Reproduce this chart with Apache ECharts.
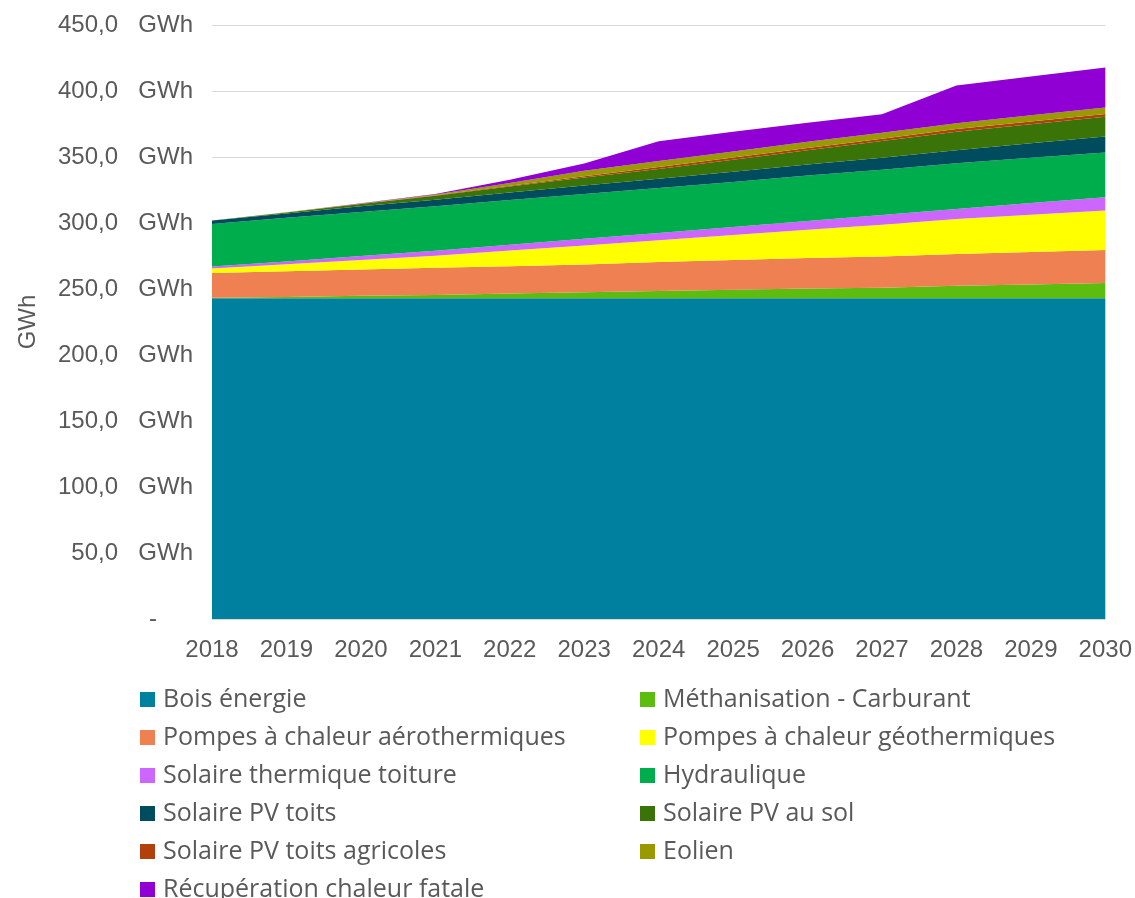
<!DOCTYPE html>
<html>
<head>
<meta charset="utf-8">
<script src="https://cdn.jsdelivr.net/npm/echarts@6/dist/echarts.min.js"></script>
<style>
  html, body { margin: 0; padding: 0; background: #ffffff; }
  #chart { width: 1135px; height: 898px; }
</style>
</head>
<body>
<div id="chart"></div>
<script>
// Production d'énergie renouvelable par filière, 2018-2030 (GWh)
const years = ['2018','2019','2020','2021','2022','2023','2024','2025','2026','2027','2028','2029','2030'];

const boisEnergie     = [243, 243, 243, 243, 243, 243, 243, 243, 243, 243, 243, 243, 243];
const methanisation   = [0.3, 1.0, 1.8, 2.5, 3.5, 4.5, 5.5, 6.5, 7.3, 8.0, 9.5, 10.5, 11.5];
const pacAero         = [18.8, 19.4, 20.0, 20.6, 20.8, 21.0, 22.0, 22.5, 23.1, 23.7, 24.0, 24.5, 25.0];
const pacGeo          = [3.4, 5.3, 7.2, 9.0, 11.8, 14.5, 16.5, 19.0, 21.5, 24.0, 26.5, 28.3, 30.0];
const solaireThermique= [1.5, 2.2, 3.0, 3.8, 4.4, 5.0, 5.5, 6.0, 6.7, 7.3, 7.6, 8.8, 10.0];
const hydraulique     = [32.3, 33.0, 33.4, 33.8, 33.9, 34.0, 34.0, 34.1, 34.3, 34.4, 34.6, 34.3, 34.0];
const pvToits         = [2.5, 3.3, 4.2, 5.0, 5.8, 6.5, 7.0, 7.7, 8.4, 9.1, 10.0, 11.0, 12.0];
const pvSol           = [0, 0.7, 1.7, 3.0, 4.5, 6.0, 7.5, 9.2, 10.9, 12.6, 14.0, 14.5, 15.0];
const pvAgricoles     = [0, 0.1, 0.2, 0.3, 0.6, 1.0, 1.5, 1.6, 1.7, 1.7, 2.0, 2.0, 2.0];
const eolien          = [0, 0.1, 0.3, 0.5, 2.0, 4.0, 4.5, 4.5, 4.6, 4.6, 4.4, 4.7, 5.0];
const chaleurFatale   = [0, 0, 0.2, 0.5, 2.5, 5.5, 15.0, 15.0, 14.5, 14.0, 28.5, 29.3, 30.3];

const yTicks = { min: 0, max: 450, interval: 50 };

const seriesDefs = [
  { name: 'Bois énergie',                   data: boisEnergie,      color: '#00809F' },
  { name: 'Méthanisation - Carburant',      data: methanisation,    color: '#5CBD10' },
  { name: 'Pompes à chaleur aérothermiques',data: pacAero,          color: '#EE8052' },
  { name: 'Pompes à chaleur géothermiques', data: pacGeo,           color: '#FFFF00' },
  { name: 'Solaire thermique toiture',      data: solaireThermique, color: '#CC66FF' },
  { name: 'Hydraulique',                    data: hydraulique,      color: '#00AD4D' },
  { name: 'Solaire PV toits',               data: pvToits,          color: '#004C5F' },
  { name: 'Solaire PV au sol',              data: pvSol,            color: '#3A7308' },
  { name: 'Solaire PV toits agricoles',     data: pvAgricoles,      color: '#B1400D' },
  { name: 'Eolien',                         data: eolien,           color: '#9A9A00' },
  { name: 'Récupération chaleur fatale',    data: chaleurFatale,    color: '#9000D4' }
];

const leftLegend  = ['Bois énergie', 'Pompes à chaleur aérothermiques', 'Solaire thermique toiture',
                     'Solaire PV toits', 'Solaire PV toits agricoles', 'Récupération chaleur fatale'];
const rightLegend = ['Méthanisation - Carburant', 'Pompes à chaleur géothermiques', 'Hydraulique',
                     'Solaire PV au sol', 'Eolien'];

const axisFont = '"Liberation Sans", Arial, sans-serif';
const legendFont = '"Open Sans", "Noto Sans", sans-serif';
const grey = '#595959';

function fmtValue(v) {
  if (v === 0) return '{z|-}';
  return '{n|' + v.toFixed(1).replace('.', ',') + '}{u|GWh}';
}

const legendCommon = {
  orient: 'vertical',
  padding: 0,
  height: 240,
  itemWidth: 15,
  itemHeight: 15,
  itemGap: 13,
  icon: 'rect',
  textStyle: { fontFamily: legendFont, fontSize: 25, color: grey, lineHeight: 24.5, padding: [0, 0, 0, 3] },
  selectedMode: false
};

const chart = echarts.init(document.getElementById('chart'), null, { renderer: 'canvas' });
chart.setOption({
  animation: false,
  backgroundColor: '#ffffff',
  grid: { left: 212, right: 29, top: 25, bottom: 279 },
  legend: [
    Object.assign({}, legendCommon, { left: 140, top: 687, data: leftLegend }),
    Object.assign({}, legendCommon, { left: 640, top: 687, data: rightLegend })
  ],
  xAxis: {
    type: 'category',
    data: years,
    boundaryGap: false,
    axisLine: { show: true, lineStyle: { color: '#D9D9D9' } },
    axisTick: { show: false },
    axisLabel: { fontFamily: axisFont, fontSize: 24, color: grey, margin: 19 },
    splitLine: { show: false }
  },
  yAxis: {
    type: 'value',
    min: yTicks.min,
    max: yTicks.max,
    interval: yTicks.interval,
    name: 'GWh',
    nameLocation: 'middle',
    nameGap: 172,
    nameRotate: 90,
    nameTextStyle: { fontFamily: axisFont, fontSize: 24, color: grey },
    axisLine: { show: false },
    axisTick: { show: false },
    splitLine: { show: true, lineStyle: { color: '#D9D9D9', width: 1 } },
    axisLabel: {
      margin: 19,
      formatter: fmtValue,
      rich: {
        n: { fontFamily: axisFont, fontSize: 24, color: grey, width: 62, align: 'right' },
        u: { fontFamily: axisFont, fontSize: 24, color: grey, width: 75, align: 'right' },
        z: { fontFamily: axisFont, fontSize: 24, color: grey, padding: [0, 36, 0, 0] }
      }
    }
  },
  series: seriesDefs.map(s => ({
    name: s.name,
    type: 'line',
    stack: 'total',
    data: s.data,
    symbol: 'none',
    smooth: false,
    lineStyle: { width: 0 },
    areaStyle: { color: s.color, opacity: 1 },
    itemStyle: { color: s.color },
    emphasis: { disabled: true }
  }))
});
</script>
</body>
</html>
